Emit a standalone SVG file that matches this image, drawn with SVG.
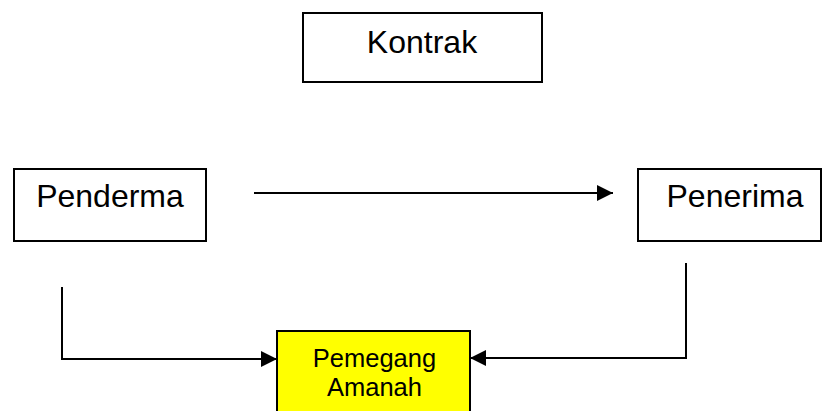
<svg xmlns="http://www.w3.org/2000/svg" width="823" height="411" viewBox="0 0 823 411">
<style>
.box{fill:#fff;stroke:#000;stroke-width:2}
.lbl{font-family:"Liberation Sans",Arial,sans-serif;font-size:32px;fill:#000;text-anchor:middle}
.small{font-family:"Liberation Sans",Arial,sans-serif;font-size:25.5px;fill:#000;text-anchor:middle}
.con{fill:none;stroke:#000;stroke-width:2}
</style>
<defs>
<marker id="ah" viewBox="0 0 16 16" refX="16" refY="8" markerWidth="16" markerHeight="16" markerUnits="userSpaceOnUse" orient="auto">
<path d="M0,0 L16,8 L0,16 Z" fill="#000"/>
</marker>
</defs>
<g id="kontrak">
<rect class="box" x="303" y="13" width="239" height="69"/>
<text class="lbl" x="422" y="53">Kontrak</text>
</g>
<g id="penderma">
<rect class="box" x="14" y="169" width="192" height="72"/>
<text class="lbl" x="110" y="207">Penderma</text>
</g>
<g id="penerima">
<rect class="box" x="638" y="169" width="183" height="72"/>
<text class="lbl" x="735" y="207">Penerima</text>
</g>
<g id="pemegang">
<rect x="277" y="331" width="193" height="90" fill="#ffff00" stroke="#000" stroke-width="2"/>
<text class="small" x="374.5" y="367">Pemegang</text>
<text class="small" x="374.5" y="396">Amanah</text>
</g>
<g id="connectors">
<path class="con" d="M254,193 H613" marker-end="url(#ah)"/>
<path class="con" d="M62,287 V359 H277" marker-end="url(#ah)"/>
<path class="con" d="M686,263 V358 H470" marker-end="url(#ah)"/>
</g>
</svg>
